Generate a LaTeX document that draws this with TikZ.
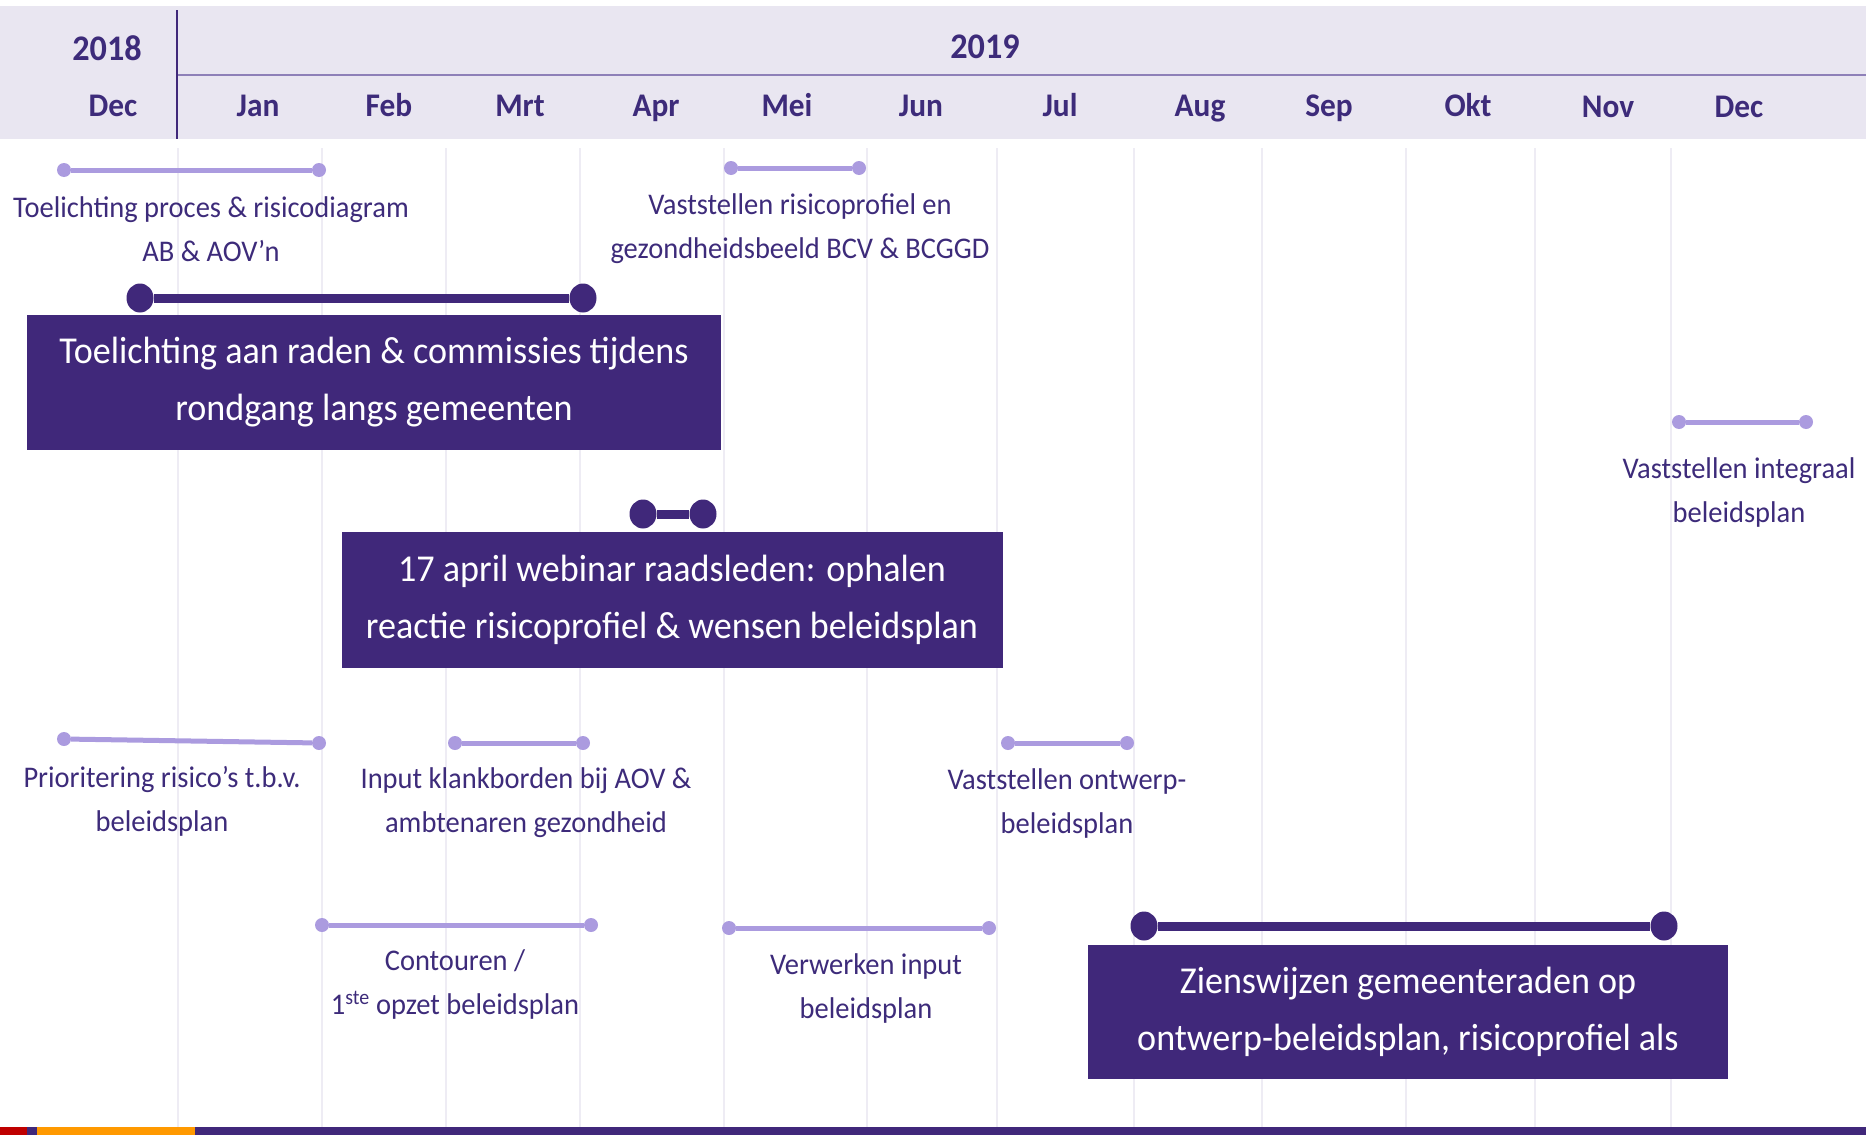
\documentclass[tikz,border=0pt]{standalone}
\usepackage{fontspec}
\setmainfont[FakeStretch=0.95]{Carlito}
\usetikzlibrary{calc,positioning,shapes.geometric}
\definecolor{planPurple}{HTML}{40287A}
\definecolor{planLilac}{HTML}{AB9BDF}
\definecolor{planText}{HTML}{3D2B7A}
\definecolor{planHeader}{HTML}{E9E6F1}
\definecolor{planRule}{HTML}{8E80B8}
\definecolor{planGrid}{HTML}{EEECF4}
\begin{document}
\begin{tikzpicture}[x=1pt, y=-1pt,
    smallDot/.style={circle, fill=planLilac, inner sep=0pt, minimum size=14pt},
    bigDot/.style={ellipse, fill=planPurple, inner sep=0pt, minimum width=27pt, minimum height=29pt},
    lightBar/.style={planLilac, line width=5pt},
    darkBar/.style={planPurple, line width=9pt},
    evText/.style={text=planText, align=center, font=\fontsize{30}{44}\selectfont},
    bigBox/.style={fill=planPurple, text=white, align=center, inner sep=0pt, font=\fontsize{38}{57}\selectfont},
    monthText/.style={text=planText, anchor=base, font=\bfseries\fontsize{33}{37}\selectfont}]
    \useasboundingbox (0,0) rectangle (1866,1135);

    \draw[planGrid, line width=1.5pt]
        (322,148) -- (322,1127)  (446,148) -- (446,1127)  (580,148) -- (580,1127)
        (724,148) -- (724,1127)  (867,148) -- (867,1127)  (997,148) -- (997,1127)
        (1134,148) -- (1134,1127)  (1262,148) -- (1262,1127)  (1406,148) -- (1406,1127)
        (1535,148) -- (1535,1127)  (1671,148) -- (1671,1127)  (178,148) -- (178,1127);

    \fill[planHeader] (0,6) rectangle (1866,139);
    \draw[planRule, line width=2.5pt] (177,75) -- (1866,75);
    \draw[planPurple, line width=2pt] (177,10) -- (177,139);
    \node[monthText, font=\bfseries\fontsize{36}{40}\selectfont] (year18) at (107,60) {2018};
    \node[monthText, font=\bfseries\fontsize{36}{40}\selectfont] (year19) at (985,58) {2019};
    \node[monthText] (decA) at (113,116) {Dec};
    \node[monthText] (jan) at (258,116) {Jan};
    \node[monthText] (feb) at (389,116) {Feb};
    \node[monthText] (mrt) at (520,116) {Mrt};
    \node[monthText] (apr) at (656,116) {Apr};
    \node[monthText] (mei) at (787,116) {Mei};
    \node[monthText] (jun) at (921,116) {Jun};
    \node[monthText] (jul) at (1060,116) {Jul};
    \node[monthText] (aug) at (1200,116) {Aug};
    \node[monthText] (sep) at (1329,116) {Sep};
    \node[monthText] (okt) at (1468,116) {Okt};
    \node[monthText] (nov) at (1608,117) {Nov};
    \node[monthText] (decB) at (1739,117) {Dec};

    \node[smallDot] (procA) at (64,170) {};
    \node[smallDot] (procB) at (319,170) {};
    \draw[lightBar] (procA) -- (procB);
    \node[evText] (procText) at (211,229) {Toelichting proces \& risicodiagram\\AB \& AOV’n};

    \node[smallDot] (profA) at (731,168) {};
    \node[smallDot] (profB) at (859,168) {};
    \draw[lightBar] (profA) -- (profB);
    \node[evText] (profText) at (800,229) {Vaststellen risicoprofiel en\\gezondheidsbeeld BCV \& BCGGD};

    \node[bigDot] (radenA) at (140,298) {};
    \node[bigDot] (radenB) at (583,298) {};
    \draw[darkBar] (radenA) -- (radenB);
    \node[bigBox, minimum width=694pt, minimum height=135pt] (radenBox) at (374,382)
        {Toelichting aan raden \& commissies tijdens\\rondgang langs gemeenten};

    \node[bigDot] (webA) at (643,514) {};
    \node[bigDot] (webB) at (703,514) {};
    \draw[darkBar] (webA) -- (webB);
    \node[bigBox, minimum width=661pt, minimum height=136pt] (webBox) at (672,600)
        {17 april webinar raadsleden: ophalen\\reactie risicoprofiel \& wensen beleidsplan};

    \node[smallDot] (integA) at (1679,422) {};
    \node[smallDot] (integB) at (1806,422) {};
    \draw[lightBar] (integA) -- (integB);
    \node[evText] (integText) at (1739,492) {Vaststellen integraal\\beleidsplan};

    \node[smallDot] (prioA) at (64,739) {};
    \node[smallDot] (prioB) at (319,743) {};
    \draw[lightBar] (prioA) -- (prioB);
    \node[evText] (prioText) at (162,801) {Prioritering risico’s t.b.v.\\beleidsplan};

    \node[smallDot] (inputA) at (455,743) {};
    \node[smallDot] (inputB) at (583,743) {};
    \draw[lightBar] (inputA) -- (inputB);
    \node[evText] (inputText) at (526,803) {Input klankborden bij AOV \&\\ambtenaren gezondheid};

    \node[smallDot] (ontwA) at (1008,743) {};
    \node[smallDot] (ontwB) at (1127,743) {};
    \draw[lightBar] (ontwA) -- (ontwB);
    \node[evText] (ontwText) at (1067,803) {Vaststellen ontwerp-\\beleidsplan};

    \node[smallDot] (contA) at (322,925) {};
    \node[smallDot] (contB) at (591,925) {};
    \draw[lightBar] (contA) -- (contB);
    \node[evText] (contText) at (455,984) {Contouren /\\1\textsuperscript{ste} opzet beleidsplan};

    \node[smallDot] (verwA) at (729,928) {};
    \node[smallDot] (verwB) at (989,928) {};
    \draw[lightBar] (verwA) -- (verwB);
    \node[evText] (verwText) at (866,988) {Verwerken input\\beleidsplan};

    \node[bigDot] (zienA) at (1144,926) {};
    \node[bigDot] (zienB) at (1664,926) {};
    \draw[darkBar] (zienA) -- (zienB);
    \node[bigBox, minimum width=640pt, minimum height=134pt] (zienBox) at (1408,1012)
        {Zienswijzen gemeenteraden op\\ontwerp-beleidsplan, risicoprofiel als};

    \fill[planPurple] (0,1127) rectangle (1866,1135);
    \fill[red!75!black] (0,1127) rectangle (27,1135);
    \fill[orange!80!yellow] (37,1127) rectangle (195,1135);
\end{tikzpicture}
\end{document}
